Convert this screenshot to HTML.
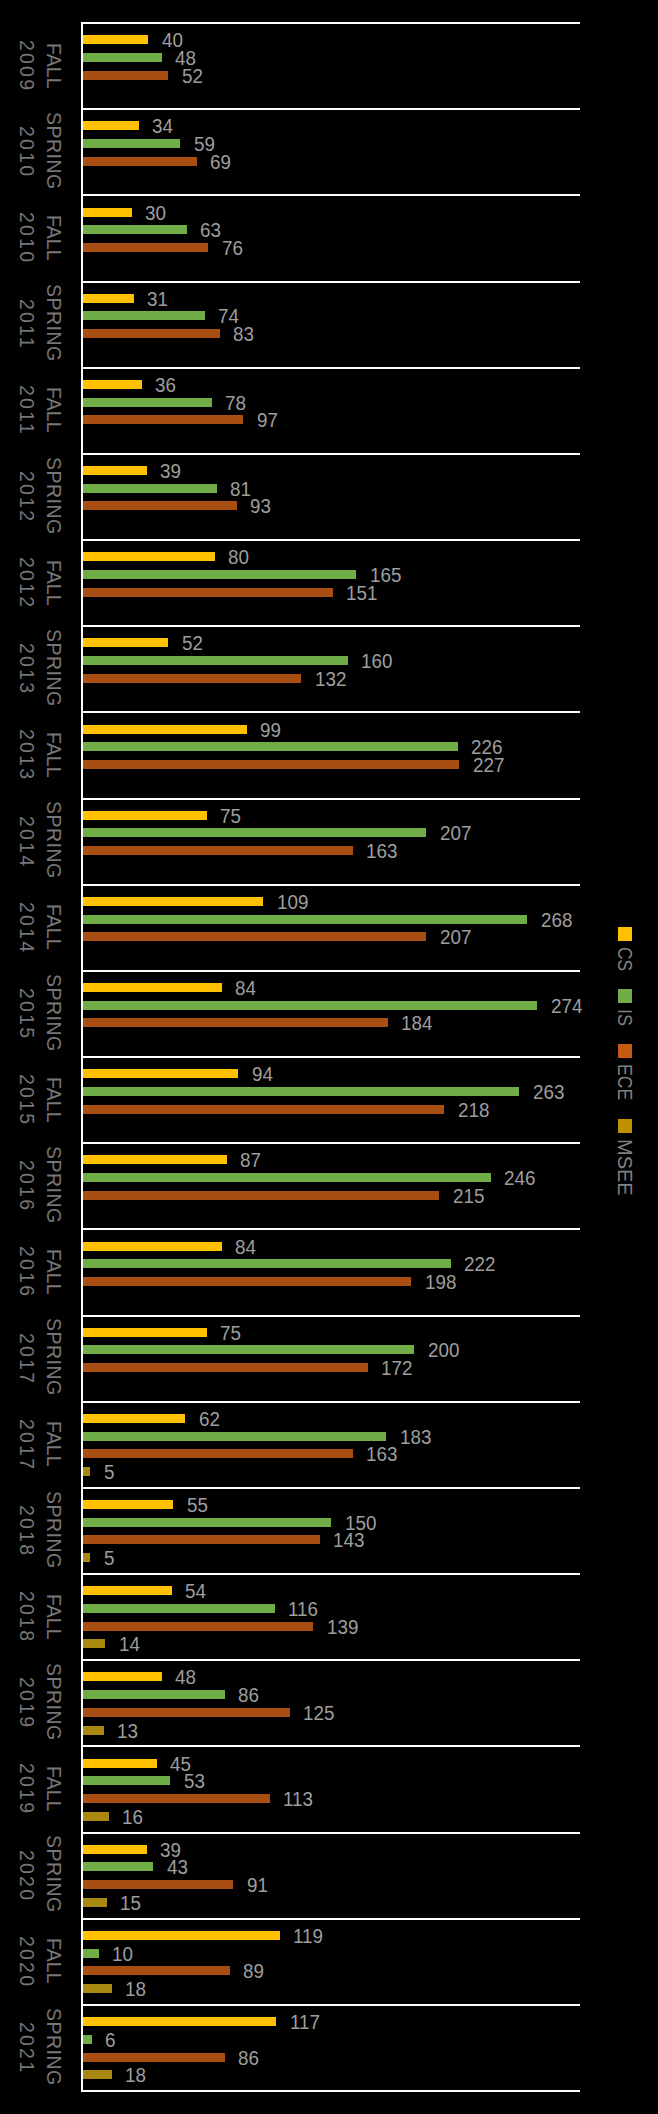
<!DOCTYPE html>
<html><head><meta charset="utf-8"><style>
html,body{margin:0;padding:0;background:#000;}
body{width:658px;height:2114px;position:relative;overflow:hidden;font-family:"Liberation Sans",sans-serif;}
.ln{position:absolute;left:81px;width:499px;height:2px;background:#fff;}
.ax{position:absolute;left:81px;top:22px;width:2px;height:2070px;background:#fff;}
.b{position:absolute;}
.v{position:absolute;font-size:20px;line-height:20px;height:20px;margin-top:-10px;color:#9e9e9e;white-space:nowrap;letter-spacing:0px;transform:scaleX(0.94);transform-origin:0 50%;}
.cat{position:absolute;writing-mode:vertical-rl;height:120px;margin-top:-60px;text-align:center;color:#767676;font-size:19.5px;line-height:20px;width:20px;white-space:nowrap;}
.c1{left:44px;}
.c2{left:17px;letter-spacing:2.2px;}
.sq{position:absolute;left:618px;width:14px;height:14px;}
.lt{position:absolute;left:614.5px;writing-mode:vertical-rl;font-size:20px;line-height:20px;width:20px;color:#808080;white-space:nowrap;letter-spacing:0px;transform-origin:50% 0;}
</style></head><body>
<div class="ln" style="top:22.00px"></div><div class="b" style="top:35.20px;left:82.0px;width:66.48px;height:9.0px;background:#FFC000"></div><div class="v" style="top:40.20px;left:161.98px">40</div><div class="b" style="top:52.90px;left:82.0px;width:79.78px;height:9.0px;background:#70AD47"></div><div class="v" style="top:57.90px;left:175.28px">48</div><div class="b" style="top:70.60px;left:82.0px;width:86.42px;height:9.0px;background:#A84E12"></div><div class="v" style="top:75.60px;left:181.92px">52</div><div class="cat c1" style="top:65.39px;letter-spacing:0px">FALL</div><div class="cat c2" style="top:66.09px">2009</div><div class="ln" style="top:108.17px"></div><div class="b" style="top:121.37px;left:82.0px;width:56.51px;height:9.0px;background:#FFC000"></div><div class="v" style="top:126.37px;left:152.01px">34</div><div class="b" style="top:139.07px;left:82.0px;width:98.06px;height:9.0px;background:#70AD47"></div><div class="v" style="top:144.07px;left:193.56px">59</div><div class="b" style="top:156.77px;left:82.0px;width:114.68px;height:9.0px;background:#A84E12"></div><div class="v" style="top:161.77px;left:210.18px">69</div><div class="cat c1" style="top:150.95px;letter-spacing:0.5px">SPRING</div><div class="cat c2" style="top:152.25px">2010</div><div class="ln" style="top:194.34px"></div><div class="b" style="top:207.54px;left:82.0px;width:49.86px;height:9.0px;background:#FFC000"></div><div class="v" style="top:212.54px;left:145.36px">30</div><div class="b" style="top:225.24px;left:82.0px;width:104.71px;height:9.0px;background:#70AD47"></div><div class="v" style="top:230.24px;left:200.21px">63</div><div class="b" style="top:242.94px;left:82.0px;width:126.31px;height:9.0px;background:#A84E12"></div><div class="v" style="top:247.94px;left:221.81px">76</div><div class="cat c1" style="top:237.73px;letter-spacing:0px">FALL</div><div class="cat c2" style="top:238.43px">2010</div><div class="ln" style="top:280.51px"></div><div class="b" style="top:293.71px;left:82.0px;width:51.52px;height:9.0px;background:#FFC000"></div><div class="v" style="top:298.71px;left:147.02px">31</div><div class="b" style="top:311.41px;left:82.0px;width:122.99px;height:9.0px;background:#70AD47"></div><div class="v" style="top:316.41px;left:218.49px">74</div><div class="b" style="top:329.11px;left:82.0px;width:137.95px;height:9.0px;background:#A84E12"></div><div class="v" style="top:334.11px;left:233.45px">83</div><div class="cat c1" style="top:323.29px;letter-spacing:0.5px">SPRING</div><div class="cat c2" style="top:324.59px">2011</div><div class="ln" style="top:366.68px"></div><div class="b" style="top:379.88px;left:82.0px;width:59.83px;height:9.0px;background:#FFC000"></div><div class="v" style="top:384.88px;left:155.33px">36</div><div class="b" style="top:397.58px;left:82.0px;width:129.64px;height:9.0px;background:#70AD47"></div><div class="v" style="top:402.58px;left:225.14px">78</div><div class="b" style="top:415.28px;left:82.0px;width:161.21px;height:9.0px;background:#A84E12"></div><div class="v" style="top:420.28px;left:256.71px">97</div><div class="cat c1" style="top:410.06px;letter-spacing:0px">FALL</div><div class="cat c2" style="top:410.76px">2011</div><div class="ln" style="top:452.85px"></div><div class="b" style="top:466.05px;left:82.0px;width:64.82px;height:9.0px;background:#FFC000"></div><div class="v" style="top:471.05px;left:160.32px">39</div><div class="b" style="top:483.75px;left:82.0px;width:134.62px;height:9.0px;background:#70AD47"></div><div class="v" style="top:488.75px;left:230.12px">81</div><div class="b" style="top:501.45px;left:82.0px;width:154.57px;height:9.0px;background:#A84E12"></div><div class="v" style="top:506.45px;left:250.07px">93</div><div class="cat c1" style="top:495.63px;letter-spacing:0.5px">SPRING</div><div class="cat c2" style="top:496.94px">2012</div><div class="ln" style="top:539.02px"></div><div class="b" style="top:552.22px;left:82.0px;width:132.96px;height:9.0px;background:#FFC000"></div><div class="v" style="top:557.22px;left:228.46px">80</div><div class="b" style="top:569.92px;left:82.0px;width:274.23px;height:9.0px;background:#70AD47"></div><div class="v" style="top:574.92px;left:369.73px">165</div><div class="b" style="top:587.62px;left:82.0px;width:250.96px;height:9.0px;background:#A84E12"></div><div class="v" style="top:592.62px;left:346.46px">151</div><div class="cat c1" style="top:582.40px;letter-spacing:0px">FALL</div><div class="cat c2" style="top:583.11px">2012</div><div class="ln" style="top:625.19px"></div><div class="b" style="top:638.39px;left:82.0px;width:86.42px;height:9.0px;background:#FFC000"></div><div class="v" style="top:643.39px;left:181.92px">52</div><div class="b" style="top:656.09px;left:82.0px;width:265.92px;height:9.0px;background:#70AD47"></div><div class="v" style="top:661.09px;left:361.42px">160</div><div class="b" style="top:673.79px;left:82.0px;width:219.38px;height:9.0px;background:#A84E12"></div><div class="v" style="top:678.79px;left:314.88px">132</div><div class="cat c1" style="top:667.98px;letter-spacing:0.5px">SPRING</div><div class="cat c2" style="top:669.28px">2013</div><div class="ln" style="top:711.36px"></div><div class="b" style="top:724.56px;left:82.0px;width:164.54px;height:9.0px;background:#FFC000"></div><div class="v" style="top:729.56px;left:260.04px">99</div><div class="b" style="top:742.26px;left:82.0px;width:375.61px;height:9.0px;background:#70AD47"></div><div class="v" style="top:747.26px;left:471.11px">226</div><div class="b" style="top:759.96px;left:82.0px;width:377.27px;height:9.0px;background:#A84E12"></div><div class="v" style="top:764.96px;left:472.77px">227</div><div class="cat c1" style="top:754.75px;letter-spacing:0px">FALL</div><div class="cat c2" style="top:755.45px">2013</div><div class="ln" style="top:797.53px"></div><div class="b" style="top:810.73px;left:82.0px;width:124.65px;height:9.0px;background:#FFC000"></div><div class="v" style="top:815.73px;left:220.15px">75</div><div class="b" style="top:828.43px;left:82.0px;width:344.03px;height:9.0px;background:#70AD47"></div><div class="v" style="top:833.43px;left:439.53px">207</div><div class="b" style="top:846.13px;left:82.0px;width:270.91px;height:9.0px;background:#A84E12"></div><div class="v" style="top:851.13px;left:366.41px">163</div><div class="cat c1" style="top:840.32px;letter-spacing:0.5px">SPRING</div><div class="cat c2" style="top:841.62px">2014</div><div class="ln" style="top:883.70px"></div><div class="b" style="top:896.90px;left:82.0px;width:181.16px;height:9.0px;background:#FFC000"></div><div class="v" style="top:901.90px;left:276.66px">109</div><div class="b" style="top:914.60px;left:82.0px;width:445.42px;height:9.0px;background:#70AD47"></div><div class="v" style="top:919.60px;left:540.92px">268</div><div class="b" style="top:932.30px;left:82.0px;width:344.03px;height:9.0px;background:#A84E12"></div><div class="v" style="top:937.30px;left:439.53px">207</div><div class="cat c1" style="top:927.09px;letter-spacing:0px">FALL</div><div class="cat c2" style="top:927.79px">2014</div><div class="ln" style="top:969.87px"></div><div class="b" style="top:983.07px;left:82.0px;width:139.61px;height:9.0px;background:#FFC000"></div><div class="v" style="top:988.07px;left:235.11px">84</div><div class="b" style="top:1000.77px;left:82.0px;width:455.39px;height:9.0px;background:#70AD47"></div><div class="v" style="top:1005.77px;left:550.89px">274</div><div class="b" style="top:1018.47px;left:82.0px;width:305.81px;height:9.0px;background:#A84E12"></div><div class="v" style="top:1023.47px;left:401.31px">184</div><div class="cat c1" style="top:1012.66px;letter-spacing:0.5px">SPRING</div><div class="cat c2" style="top:1013.96px">2015</div><div class="ln" style="top:1056.04px"></div><div class="b" style="top:1069.24px;left:82.0px;width:156.23px;height:9.0px;background:#FFC000"></div><div class="v" style="top:1074.24px;left:251.73px">94</div><div class="b" style="top:1086.94px;left:82.0px;width:437.11px;height:9.0px;background:#70AD47"></div><div class="v" style="top:1091.94px;left:532.61px">263</div><div class="b" style="top:1104.64px;left:82.0px;width:362.32px;height:9.0px;background:#A84E12"></div><div class="v" style="top:1109.64px;left:457.82px">218</div><div class="cat c1" style="top:1099.42px;letter-spacing:0px">FALL</div><div class="cat c2" style="top:1100.12px">2015</div><div class="ln" style="top:1142.21px"></div><div class="b" style="top:1155.41px;left:82.0px;width:144.59px;height:9.0px;background:#FFC000"></div><div class="v" style="top:1160.41px;left:240.09px">87</div><div class="b" style="top:1173.11px;left:82.0px;width:408.85px;height:9.0px;background:#70AD47"></div><div class="v" style="top:1178.11px;left:504.35px">246</div><div class="b" style="top:1190.81px;left:82.0px;width:357.33px;height:9.0px;background:#A84E12"></div><div class="v" style="top:1195.81px;left:452.83px">215</div><div class="cat c1" style="top:1185.00px;letter-spacing:0.5px">SPRING</div><div class="cat c2" style="top:1186.30px">2016</div><div class="ln" style="top:1228.38px"></div><div class="b" style="top:1241.58px;left:82.0px;width:139.61px;height:9.0px;background:#FFC000"></div><div class="v" style="top:1246.58px;left:235.11px">84</div><div class="b" style="top:1259.28px;left:82.0px;width:368.96px;height:9.0px;background:#70AD47"></div><div class="v" style="top:1264.28px;left:464.46px">222</div><div class="b" style="top:1276.98px;left:82.0px;width:329.08px;height:9.0px;background:#A84E12"></div><div class="v" style="top:1281.98px;left:424.58px">198</div><div class="cat c1" style="top:1271.77px;letter-spacing:0px">FALL</div><div class="cat c2" style="top:1272.47px">2016</div><div class="ln" style="top:1314.55px"></div><div class="b" style="top:1327.75px;left:82.0px;width:124.65px;height:9.0px;background:#FFC000"></div><div class="v" style="top:1332.75px;left:220.15px">75</div><div class="b" style="top:1345.45px;left:82.0px;width:332.40px;height:9.0px;background:#70AD47"></div><div class="v" style="top:1350.45px;left:427.90px">200</div><div class="b" style="top:1363.15px;left:82.0px;width:285.86px;height:9.0px;background:#A84E12"></div><div class="v" style="top:1368.15px;left:381.36px">172</div><div class="cat c1" style="top:1357.34px;letter-spacing:0.5px">SPRING</div><div class="cat c2" style="top:1358.63px">2017</div><div class="ln" style="top:1400.72px"></div><div class="b" style="top:1413.92px;left:82.0px;width:103.04px;height:9.0px;background:#FFC000"></div><div class="v" style="top:1418.92px;left:198.54px">62</div><div class="b" style="top:1431.62px;left:82.0px;width:304.15px;height:9.0px;background:#70AD47"></div><div class="v" style="top:1436.62px;left:399.65px">183</div><div class="b" style="top:1449.32px;left:82.0px;width:270.91px;height:9.0px;background:#A84E12"></div><div class="v" style="top:1454.32px;left:366.41px">163</div><div class="b" style="top:1467.02px;left:82.0px;width:8.31px;height:9.0px;background:#A8880F"></div><div class="v" style="top:1472.02px;left:103.81px">5</div><div class="cat c1" style="top:1444.11px;letter-spacing:0px">FALL</div><div class="cat c2" style="top:1444.81px">2017</div><div class="ln" style="top:1486.89px"></div><div class="b" style="top:1500.09px;left:82.0px;width:91.41px;height:9.0px;background:#FFC000"></div><div class="v" style="top:1505.09px;left:186.91px">55</div><div class="b" style="top:1517.79px;left:82.0px;width:249.30px;height:9.0px;background:#70AD47"></div><div class="v" style="top:1522.79px;left:344.80px">150</div><div class="b" style="top:1535.49px;left:82.0px;width:237.67px;height:9.0px;background:#A84E12"></div><div class="v" style="top:1540.49px;left:333.17px">143</div><div class="b" style="top:1553.19px;left:82.0px;width:8.31px;height:9.0px;background:#A8880F"></div><div class="v" style="top:1558.19px;left:103.81px">5</div><div class="cat c1" style="top:1529.68px;letter-spacing:0.5px">SPRING</div><div class="cat c2" style="top:1530.98px">2018</div><div class="ln" style="top:1573.06px"></div><div class="b" style="top:1586.26px;left:82.0px;width:89.75px;height:9.0px;background:#FFC000"></div><div class="v" style="top:1591.26px;left:185.25px">54</div><div class="b" style="top:1603.96px;left:82.0px;width:192.79px;height:9.0px;background:#70AD47"></div><div class="v" style="top:1608.96px;left:288.29px">116</div><div class="b" style="top:1621.66px;left:82.0px;width:231.02px;height:9.0px;background:#A84E12"></div><div class="v" style="top:1626.66px;left:326.52px">139</div><div class="b" style="top:1639.36px;left:82.0px;width:23.27px;height:9.0px;background:#A8880F"></div><div class="v" style="top:1644.36px;left:118.77px">14</div><div class="cat c1" style="top:1616.44px;letter-spacing:0px">FALL</div><div class="cat c2" style="top:1617.14px">2018</div><div class="ln" style="top:1659.23px"></div><div class="b" style="top:1672.43px;left:82.0px;width:79.78px;height:9.0px;background:#FFC000"></div><div class="v" style="top:1677.43px;left:175.28px">48</div><div class="b" style="top:1690.13px;left:82.0px;width:142.93px;height:9.0px;background:#70AD47"></div><div class="v" style="top:1695.13px;left:238.43px">86</div><div class="b" style="top:1707.83px;left:82.0px;width:207.75px;height:9.0px;background:#A84E12"></div><div class="v" style="top:1712.83px;left:303.25px">125</div><div class="b" style="top:1725.53px;left:82.0px;width:21.61px;height:9.0px;background:#A8880F"></div><div class="v" style="top:1730.53px;left:117.11px">13</div><div class="cat c1" style="top:1702.02px;letter-spacing:0.5px">SPRING</div><div class="cat c2" style="top:1703.32px">2019</div><div class="ln" style="top:1745.40px"></div><div class="b" style="top:1758.60px;left:82.0px;width:74.79px;height:9.0px;background:#FFC000"></div><div class="v" style="top:1763.60px;left:170.29px">45</div><div class="b" style="top:1776.30px;left:82.0px;width:88.09px;height:9.0px;background:#70AD47"></div><div class="v" style="top:1781.30px;left:183.59px">53</div><div class="b" style="top:1794.00px;left:82.0px;width:187.81px;height:9.0px;background:#A84E12"></div><div class="v" style="top:1799.00px;left:283.31px">113</div><div class="b" style="top:1811.70px;left:82.0px;width:26.59px;height:9.0px;background:#A8880F"></div><div class="v" style="top:1816.70px;left:122.09px">16</div><div class="cat c1" style="top:1788.79px;letter-spacing:0px">FALL</div><div class="cat c2" style="top:1789.49px">2019</div><div class="ln" style="top:1831.57px"></div><div class="b" style="top:1844.77px;left:82.0px;width:64.82px;height:9.0px;background:#FFC000"></div><div class="v" style="top:1849.77px;left:160.32px">39</div><div class="b" style="top:1862.47px;left:82.0px;width:71.47px;height:9.0px;background:#70AD47"></div><div class="v" style="top:1867.47px;left:166.97px">43</div><div class="b" style="top:1880.17px;left:82.0px;width:151.24px;height:9.0px;background:#A84E12"></div><div class="v" style="top:1885.17px;left:246.74px">91</div><div class="b" style="top:1897.87px;left:82.0px;width:24.93px;height:9.0px;background:#A8880F"></div><div class="v" style="top:1902.87px;left:120.43px">15</div><div class="cat c1" style="top:1874.36px;letter-spacing:0.5px">SPRING</div><div class="cat c2" style="top:1875.65px">2020</div><div class="ln" style="top:1917.74px"></div><div class="b" style="top:1930.94px;left:82.0px;width:197.78px;height:9.0px;background:#FFC000"></div><div class="v" style="top:1935.94px;left:293.28px">119</div><div class="b" style="top:1948.64px;left:82.0px;width:16.62px;height:9.0px;background:#70AD47"></div><div class="v" style="top:1953.64px;left:112.12px">10</div><div class="b" style="top:1966.34px;left:82.0px;width:147.92px;height:9.0px;background:#A84E12"></div><div class="v" style="top:1971.34px;left:243.42px">89</div><div class="b" style="top:1984.04px;left:82.0px;width:29.92px;height:9.0px;background:#A8880F"></div><div class="v" style="top:1989.04px;left:125.42px">18</div><div class="cat c1" style="top:1961.12px;letter-spacing:0px">FALL</div><div class="cat c2" style="top:1961.83px">2020</div><div class="ln" style="top:2003.91px"></div><div class="b" style="top:2017.11px;left:82.0px;width:194.45px;height:9.0px;background:#FFC000"></div><div class="v" style="top:2022.11px;left:289.95px">117</div><div class="b" style="top:2034.81px;left:82.0px;width:9.97px;height:9.0px;background:#70AD47"></div><div class="v" style="top:2039.81px;left:105.47px">6</div><div class="b" style="top:2052.51px;left:82.0px;width:142.93px;height:9.0px;background:#A84E12"></div><div class="v" style="top:2057.51px;left:238.43px">86</div><div class="b" style="top:2070.21px;left:82.0px;width:29.92px;height:9.0px;background:#A8880F"></div><div class="v" style="top:2075.21px;left:125.42px">18</div><div class="cat c1" style="top:2046.70px;letter-spacing:0.5px">SPRING</div><div class="cat c2" style="top:2048.00px">2021</div><div class="ln" style="top:2090.08px"></div>
<div class="ax"></div>
<div class="sq" style="top:927px;background:#FFC000"></div><div class="lt" style="top:946.8px;transform:scaleY(0.87)">CS</div><div class="sq" style="top:989px;background:#70AD47"></div><div class="lt" style="top:1008.8px;transform:scaleY(0.9)">IS</div><div class="sq" style="top:1044px;background:#C55A11"></div><div class="lt" style="top:1063.8px;transform:scaleY(0.88)">ECE</div><div class="sq" style="top:1119px;background:#BF9000"></div><div class="lt" style="top:1138.8px;transform:scaleY(1.0)">MSEE</div>
</body></html>
